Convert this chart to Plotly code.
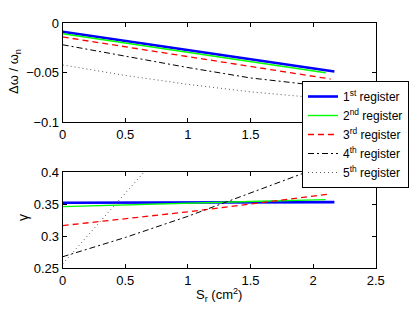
import plotly.graph_objects as go

# ---- data ----
names = ["1<sup>st</sup> register", "2<sup>nd</sup> register", "3<sup>rd</sup> register",
         "4<sup>th</sup> register", "5<sup>th</sup> register"]

x1 = [0, 0.5, 1.0, 1.5, 2.17]
x2 = [0, 0.5, 1.0, 1.5, 2.10]
x3 = [0, 0.5, 1.0, 1.5, 2.14]
x4 = [0, 0.5, 1.0, 1.5, 2.0, 2.1]
x5_top = [0, 0.5, 1.0, 1.5, 2.0]
x5_bot = [0, 0.25, 0.5, 0.75]

dw1 = [-0.0088, -0.0181, -0.0273, -0.0366, -0.0490]
dw2 = [-0.0108, -0.0202, -0.0296, -0.0389, -0.0502]
dw3 = [-0.0141, -0.0240, -0.0340, -0.0439, -0.0566]
dw4 = [-0.0220, -0.0335, -0.0450, -0.0555, -0.0628, -0.0640]
dw5 = [-0.0424, -0.0530, -0.0620, -0.0695, -0.0752]

g1 = [0.352, 0.3525, 0.353, 0.353, 0.353]
g2 = [0.346, 0.349, 0.352, 0.354, 0.357]
g3 = [0.3165, 0.327, 0.338, 0.350, 0.366]
g4 = [0.268, 0.298, 0.331, 0.367, 0.403, 0.411]
g5 = [0.257, 0.312, 0.367, 0.422]

xticks = [0, 0.5, 1, 1.5, 2, 2.5]
top_yticks = [-0.1, -0.05, 0]
top_yticklabels = ["\u22120.1", "\u22120.05", "0"]
bot_yticks = [0.25, 0.3, 0.35, 0.4]

# ---- styles ----
styles = [
    dict(color="#0000ff", width=2.6, dash="solid"),
    dict(color="#00ff00", width=1.4, dash="solid"),
    dict(color="#ff0000", width=1.3, dash="6px,4px"),
    dict(color="#000000", width=1.0, dash="6px,3px,2px,3px"),
    dict(color="#555555", width=1.0, dash="1px,3px"),
]

FONT = "Liberation Sans, Arial, Helvetica, sans-serif"

fig = go.Figure()
tops = [(x1, dw1), (x2, dw2), (x3, dw3), (x4, dw4), (x5_top, dw5)]
bots = [(x1, g1), (x2, g2), (x3, g3), (x4, g4), (x5_bot, g5)]
for i, (xs, ys) in enumerate(tops):
    fig.add_trace(go.Scatter(x=xs, y=ys, mode="lines", line=styles[i], name=names[i],
                             xaxis="x", yaxis="y", showlegend=True, legendgroup=str(i)))
for i, (xs, ys) in enumerate(bots):
    fig.add_trace(go.Scatter(x=xs, y=ys, mode="lines", line=styles[i], name=names[i],
                             xaxis="x2", yaxis="y2", showlegend=False, legendgroup=str(i)))

W, H = 415, 313
xl, xr = 62.7, 375.7
axis_common = dict(showline=True, linecolor="black", linewidth=1, mirror="ticks",
                   ticks="inside", ticklen=4, tickcolor="black", showgrid=False,
                   zeroline=False, automargin=False,
                   tickfont=dict(family=FONT, size=13, color="black"))

fig.update_layout(
    width=W, height=H,
    margin=dict(l=0, r=0, t=0, b=0, autoexpand=False),
    paper_bgcolor="white", plot_bgcolor="white",
    font=dict(family=FONT, size=13, color="black"),
    xaxis=dict(domain=[xl / W, xr / W], range=[0, 2.5], tickvals=xticks,
               ticktext=["0", "0.5", "1", "1.5", "2", ""], anchor="y", **axis_common),
    yaxis=dict(domain=[1 - 122 / H, 1 - 23 / H], range=[-0.1, 0], tickvals=top_yticks,
               ticktext=top_yticklabels, anchor="x", **axis_common),
    xaxis2=dict(domain=[xl / W, xr / W], range=[0, 2.5], tickvals=xticks,
                ticktext=["0", "0.5", "1", "1.5", "2", "2.5"], anchor="y2", **axis_common),
    yaxis2=dict(domain=[1 - 268.3 / H, 1 - 172 / H], range=[0.25, 0.4], tickvals=bot_yticks,
                ticktext=["0.25", "0.3", "0.35", "0.4"], anchor="x2", **axis_common),
    legend=dict(x=409 / W, y=1 - 81 / H, xanchor="right", yanchor="top",
                bgcolor="white", bordercolor="black", borderwidth=1,
                font=dict(family=FONT, size=12, color="black"),
                tracegroupgap=0, itemwidth=30),
    showlegend=True,
    annotations=[
        dict(text="\u0394\u03c9 / \u03c9<sub>n</sub>", x=14 / W, y=1 - 72 / H, xref="paper", yref="paper",
             xanchor="center", yanchor="middle",
             showarrow=False, textangle=-90, font=dict(family=FONT, size=13)),
        dict(text="\u03b3", x=23 / W, y=1 - 218 / H, xref="paper", yref="paper",
             xanchor="center", yanchor="middle",
             showarrow=False, textangle=-90, font=dict(family=FONT, size=14)),
        dict(text="S<sub>r</sub> (cm<sup>2</sup>)", x=219 / W, y=1 - 295 / H, xref="paper", yref="paper",
             xanchor="center", yanchor="middle",
             showarrow=False, font=dict(family=FONT, size=13)),
    ],
)

fig.write_html("out.html", config={"displayModeBar": False},
               post_script="document.body.style.margin='0';document.body.style.overflow='hidden';")
